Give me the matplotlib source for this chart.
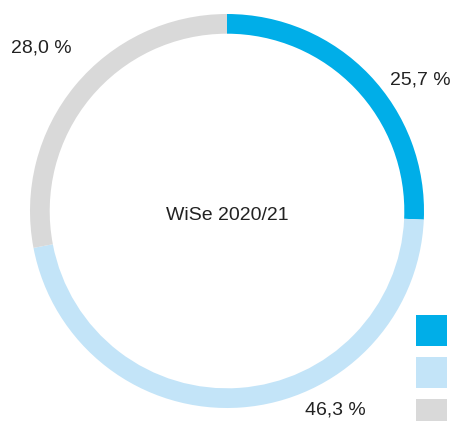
import matplotlib.pyplot as plt
from matplotlib.patches import Rectangle

plt.rcParams['font.family'] = ['Liberation Sans', 'DejaVu Sans']

# Share of students, winter semester 2020/21
values = [25.7, 46.3, 28.0]
labels = ['25,7 %', '46,3 %', '28,0 %']
colors = ['#00aee8', '#c3e4f8', '#d9d9d9']
title = 'WiSe 2020/21'

W, H = 452, 421
fig = plt.figure(figsize=(W / 100, H / 100), dpi=100)

# donut centre and outer radius in pixels
cx, cy, r = 227, 211, 197
ax = fig.add_axes([(cx - r) / W, (H - cy - r) / H, 2 * r / W, 2 * r / H])
ax.pie(values, colors=colors, startangle=90, counterclock=False, radius=1,
       wedgeprops=dict(width=0.1, linewidth=0))
ax.set_xlim(-1, 1)
ax.set_ylim(-1, 1)
ax.axis('off')

fig.text(cx / W, 1 - 215 / H, title, ha='center', va='center',
         fontsize=14, color='#222222')

# label positions (pixels, from top-left)
label_pos = [(420, 80), (335, 410), (41, 48)]
for lab, (x, y) in zip(labels, label_pos):
    fig.text(x / W, 1 - y / H, lab, ha='center', va='center',
             fontsize=14, color='#222222')

# legend squares without text
for i, c in enumerate(colors):
    y0 = 315 + i * 42
    fig.add_artist(Rectangle((416 / W, 1 - (y0 + 31) / H), 31 / W, 31 / H,
                             transform=fig.transFigure, color=c, lw=0))

fig.savefig('out.png', dpi=100)
